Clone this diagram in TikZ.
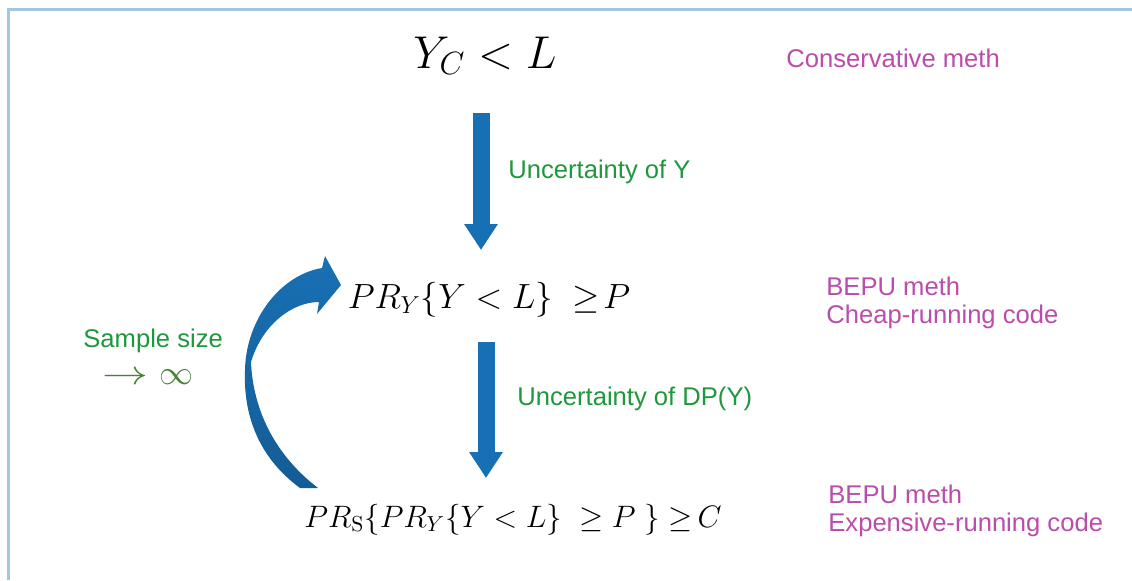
\RequirePackage{fix-cm}
\documentclass[tikz,border=0pt]{standalone}
\usepackage{graphicx}
\usepackage{fontspec}
\setsansfont{Liberation Sans}
\usetikzlibrary{arrows.meta}
\definecolor{arrowblue}{RGB}{24,112,180}
\definecolor{arrowdark}{RGB}{20,92,150}
\definecolor{framecol}{RGB}{160,200,228}
\definecolor{txtgreen}{RGB}{30,152,60}
\definecolor{darkgreen}{RGB}{72,130,52}
\definecolor{txtpink}{RGB}{186,76,172}
\tikzset{
  mathbig/.style={inner sep=0pt, font=\fontsize{23}{26}\selectfont},
  mathmid/.style={inner sep=0pt, font=\fontsize{17.5}{20}\selectfont},
  mathlow/.style={inner sep=0pt, font=\fontsize{15.5}{18}\selectfont},
  greentxt/.style={inner sep=0pt, text=txtgreen, font=\sffamily\fontsize{12.8}{14}\selectfont},
  pinktxt/.style={inner sep=0pt, text=txtpink, align=left, font=\sffamily\fontsize{12.8}{14}\selectfont},
  fatarrow/.style={draw=arrowblue, line width=8.5pt,
    -{Triangle[width=16pt,length=13pt]}},
}
\begin{document}
\begin{tikzpicture}[x=0.5pt,y=-0.5pt]
\useasboundingbox[fill=white] (0,0) rectangle (1132,580);
\draw[framecol, line width=1.5pt] (8,580) -- (8,9) -- (1132,9);

% formulas
\node[mathbig, anchor=base] (f1) at (485,68) {$Y_C < L$};
\node[mathmid, anchor=base] (f2) at (489,308) {$PR_Y\{Y < L\}\; \geq\mkern-3mu P$};
\node[mathlow, anchor=base] (f3) at (513,527) {$PR_{\mathrm{S}}\{PR_Y\{Y < L\}\;\geq P\;\}\geq\mkern-2mu C$};

% labels
\node[pinktxt, anchor=base west] (cons) at (786,67) {Conservative meth};
\node[pinktxt, anchor=base west] (bepu1a) at (826,295) {BEPU meth};
\node[pinktxt, anchor=base west] (bepu1b) at (826,323) {Cheap-running code};
\node[pinktxt, anchor=base west] (bepu2a) at (828,503) {BEPU meth};
\node[pinktxt, anchor=base west] (bepu2b) at (828,531) {Expensive-running code};
\node[greentxt, anchor=base west] (u1) at (508,178) {Uncertainty of Y};
\node[greentxt, anchor=base west] (u2) at (517,405) {Uncertainty of DP(Y)};
\node[greentxt, anchor=base west] (ss) at (83,347) {Sample size};
\node[inner sep=0pt, text=darkgreen, font=\fontsize{17}{20}\selectfont] (inf) at (148,377)
  {$\scalebox{1.35}[1]{$\rightarrow$}\ \infty$};

% straight arrows
\coordinate (a1s) at (481,113);
\coordinate (a1e) at (481,250);
\coordinate (a2s) at (486,342);
\coordinate (a2e) at (486,478);
\draw[fatarrow] (a1s) -- (a1e);
\draw[fatarrow] (a2s) -- (a2e);

% curved arrow (sample size loop)
\shade[top color=arrowblue, bottom color=arrowdark]
  (300,488) .. controls (262,460) and (243,420) .. (245,370)
  .. controls (246,320) and (280,275) .. (322,268)
  -- (325,256) -- (341,285) -- (317,314) -- (319,302)
  .. controls (292,302) and (262,325) .. (251,362)
  .. controls (253,410) and (275,455) .. (318,488) -- cycle;
\end{tikzpicture}
\end{document}
